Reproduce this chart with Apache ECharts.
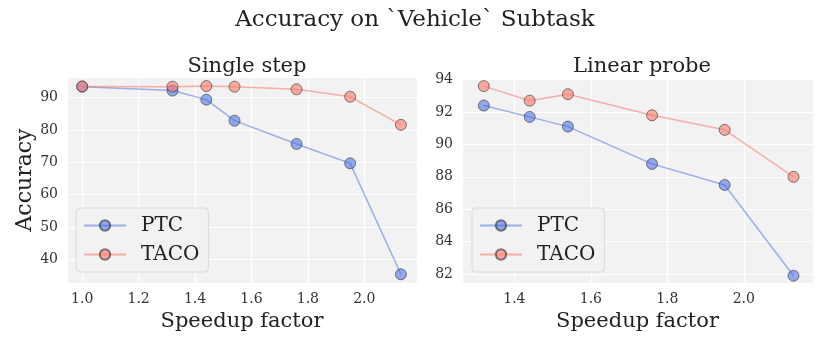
<!DOCTYPE html>
<html>
<head>
<meta charset="utf-8">
<script src="https://cdn.jsdelivr.net/npm/echarts@6/dist/echarts.min.js"></script>
<style>
  html, body { margin: 0; padding: 0; background: #fff; }
  #chart { width: 830px; height: 346px; }
</style>
</head>
<body>
<div id="chart"></div>
<script>
  // data
  const speedupSingle = [1.0, 1.32, 1.44, 1.54, 1.76, 1.95, 2.13];
  const ptcSingle = [93.4, 92.2, 89.4, 82.9, 75.7, 69.7, 35.4];
  const tacoSingle = [93.5, 93.4, 93.6, 93.4, 92.6, 90.3, 81.6];

  const speedupProbe = [1.32, 1.44, 1.54, 1.76, 1.95, 2.13];
  const ptcProbe = [92.4, 91.7, 91.1, 88.8, 87.5, 81.9];
  const tacoProbe = [93.6, 92.7, 93.1, 91.8, 90.9, 88.0];

  const serif = 'DejaVu Serif';
  const blue = 'rgba(65,105,225,0.55)';
  const blueLine = 'rgba(65,105,225,0.5)';
  const salmon = 'rgba(250,128,114,0.65)';
  const salmonLine = 'rgba(250,128,114,0.6)';

  function pairs(xs, ys) {
    return xs.map((x, i) => [x, ys[i]]);
  }

  function xAxis(idx, min, max) {
    return {
      type: 'value', gridIndex: idx, min: min, max: max, splitNumber: 6,
      name: 'Speedup factor', nameLocation: 'middle', nameGap: 28,
      nameTextStyle: { fontFamily: serif, fontSize: 21, color: '#222' },
      axisLine: { show: false }, axisTick: { show: false },
      axisLabel: { fontFamily: serif, fontSize: 14, color: '#333', margin: 9,
        showMinLabel: false, showMaxLabel: false,
        formatter: v => v.toFixed(1) },
      splitLine: { lineStyle: { color: '#fff', width: 1.2 } }
    };
  }

  function yAxis(idx, min, max, name, split) {
    return {
      type: 'value', gridIndex: idx, min: min, max: max, splitNumber: split,
      name: name, nameLocation: 'middle', nameGap: 31,
      nameTextStyle: { fontFamily: serif, fontSize: 22, color: '#222' },
      axisLine: { show: false }, axisTick: { show: false },
      axisLabel: { fontFamily: serif, fontSize: 14, color: '#333', margin: 9,
        showMinLabel: false, showMaxLabel: false },
      splitLine: { lineStyle: { color: '#fff', width: 1.2 } }
    };
  }

  function line(name, idx, data, color, lineColor) {
    return {
      name: name, type: 'line', xAxisIndex: idx, yAxisIndex: idx,
      data: data, symbol: 'circle', symbolSize: 11,
      itemStyle: { color: color, borderColor: 'rgba(50,50,50,0.6)', borderWidth: 1 },
      lineStyle: { color: lineColor, width: 1.5 },
      emphasis: { disabled: true }
    };
  }

  function legend(left) {
    return {
      left: left, top: 208, orient: 'vertical',
      data: ['PTC', 'TACO'], itemWidth: 42, itemHeight: 13, itemGap: 6,
      backgroundColor: '#F2F2F2', borderColor: '#DADADA', borderWidth: 1,
      borderRadius: 4, padding: [6, 9, 6, 7],
      textStyle: { fontFamily: serif, fontSize: 20, lineHeight: 23, color: '#222',
        padding: [0, 0, 0, 10] }
    };
  }

  const chart = echarts.init(document.getElementById('chart'));
  chart.setOption({
    animation: false,
    title: [
      { text: 'Accuracy on `Vehicle` Subtask', left: 'center', top: 4,
        textStyle: { fontFamily: serif, fontSize: 23, fontWeight: 'normal', color: '#222' } },
      { text: 'Single step', left: 242, top: 51, textAlign: 'center',
        textStyle: { fontFamily: serif, fontSize: 21, fontWeight: 'normal', color: '#222' } },
      { text: 'Linear probe', left: 637, top: 51, textAlign: 'center',
        textStyle: { fontFamily: serif, fontSize: 21, fontWeight: 'normal', color: '#222' } }
    ],
    grid: [
      { left: 67, top: 77, width: 350, height: 206, show: true,
        backgroundColor: '#F2F2F2', borderWidth: 0 },
      { left: 462, top: 78, width: 351, height: 205, show: true,
        backgroundColor: '#F2F2F2', borderWidth: 0 }
    ],
    xAxis: [xAxis(0, 0.946, 2.187), xAxis(1, 1.263, 2.181)],
    yAxis: [yAxis(0, 32.7, 96.4, 'Accuracy', 6), yAxis(1, 81.45, 94.1, '', 6)],
    legend: [legend(76), legend(472)],
    series: [
      line('PTC', 0, pairs(speedupSingle, ptcSingle), blue, blueLine),
      line('TACO', 0, pairs(speedupSingle, tacoSingle), salmon, salmonLine),
      line('PTC', 1, pairs(speedupProbe, ptcProbe), blue, blueLine),
      line('TACO', 1, pairs(speedupProbe, tacoProbe), salmon, salmonLine)
    ]
  });
</script>
</body>
</html>
